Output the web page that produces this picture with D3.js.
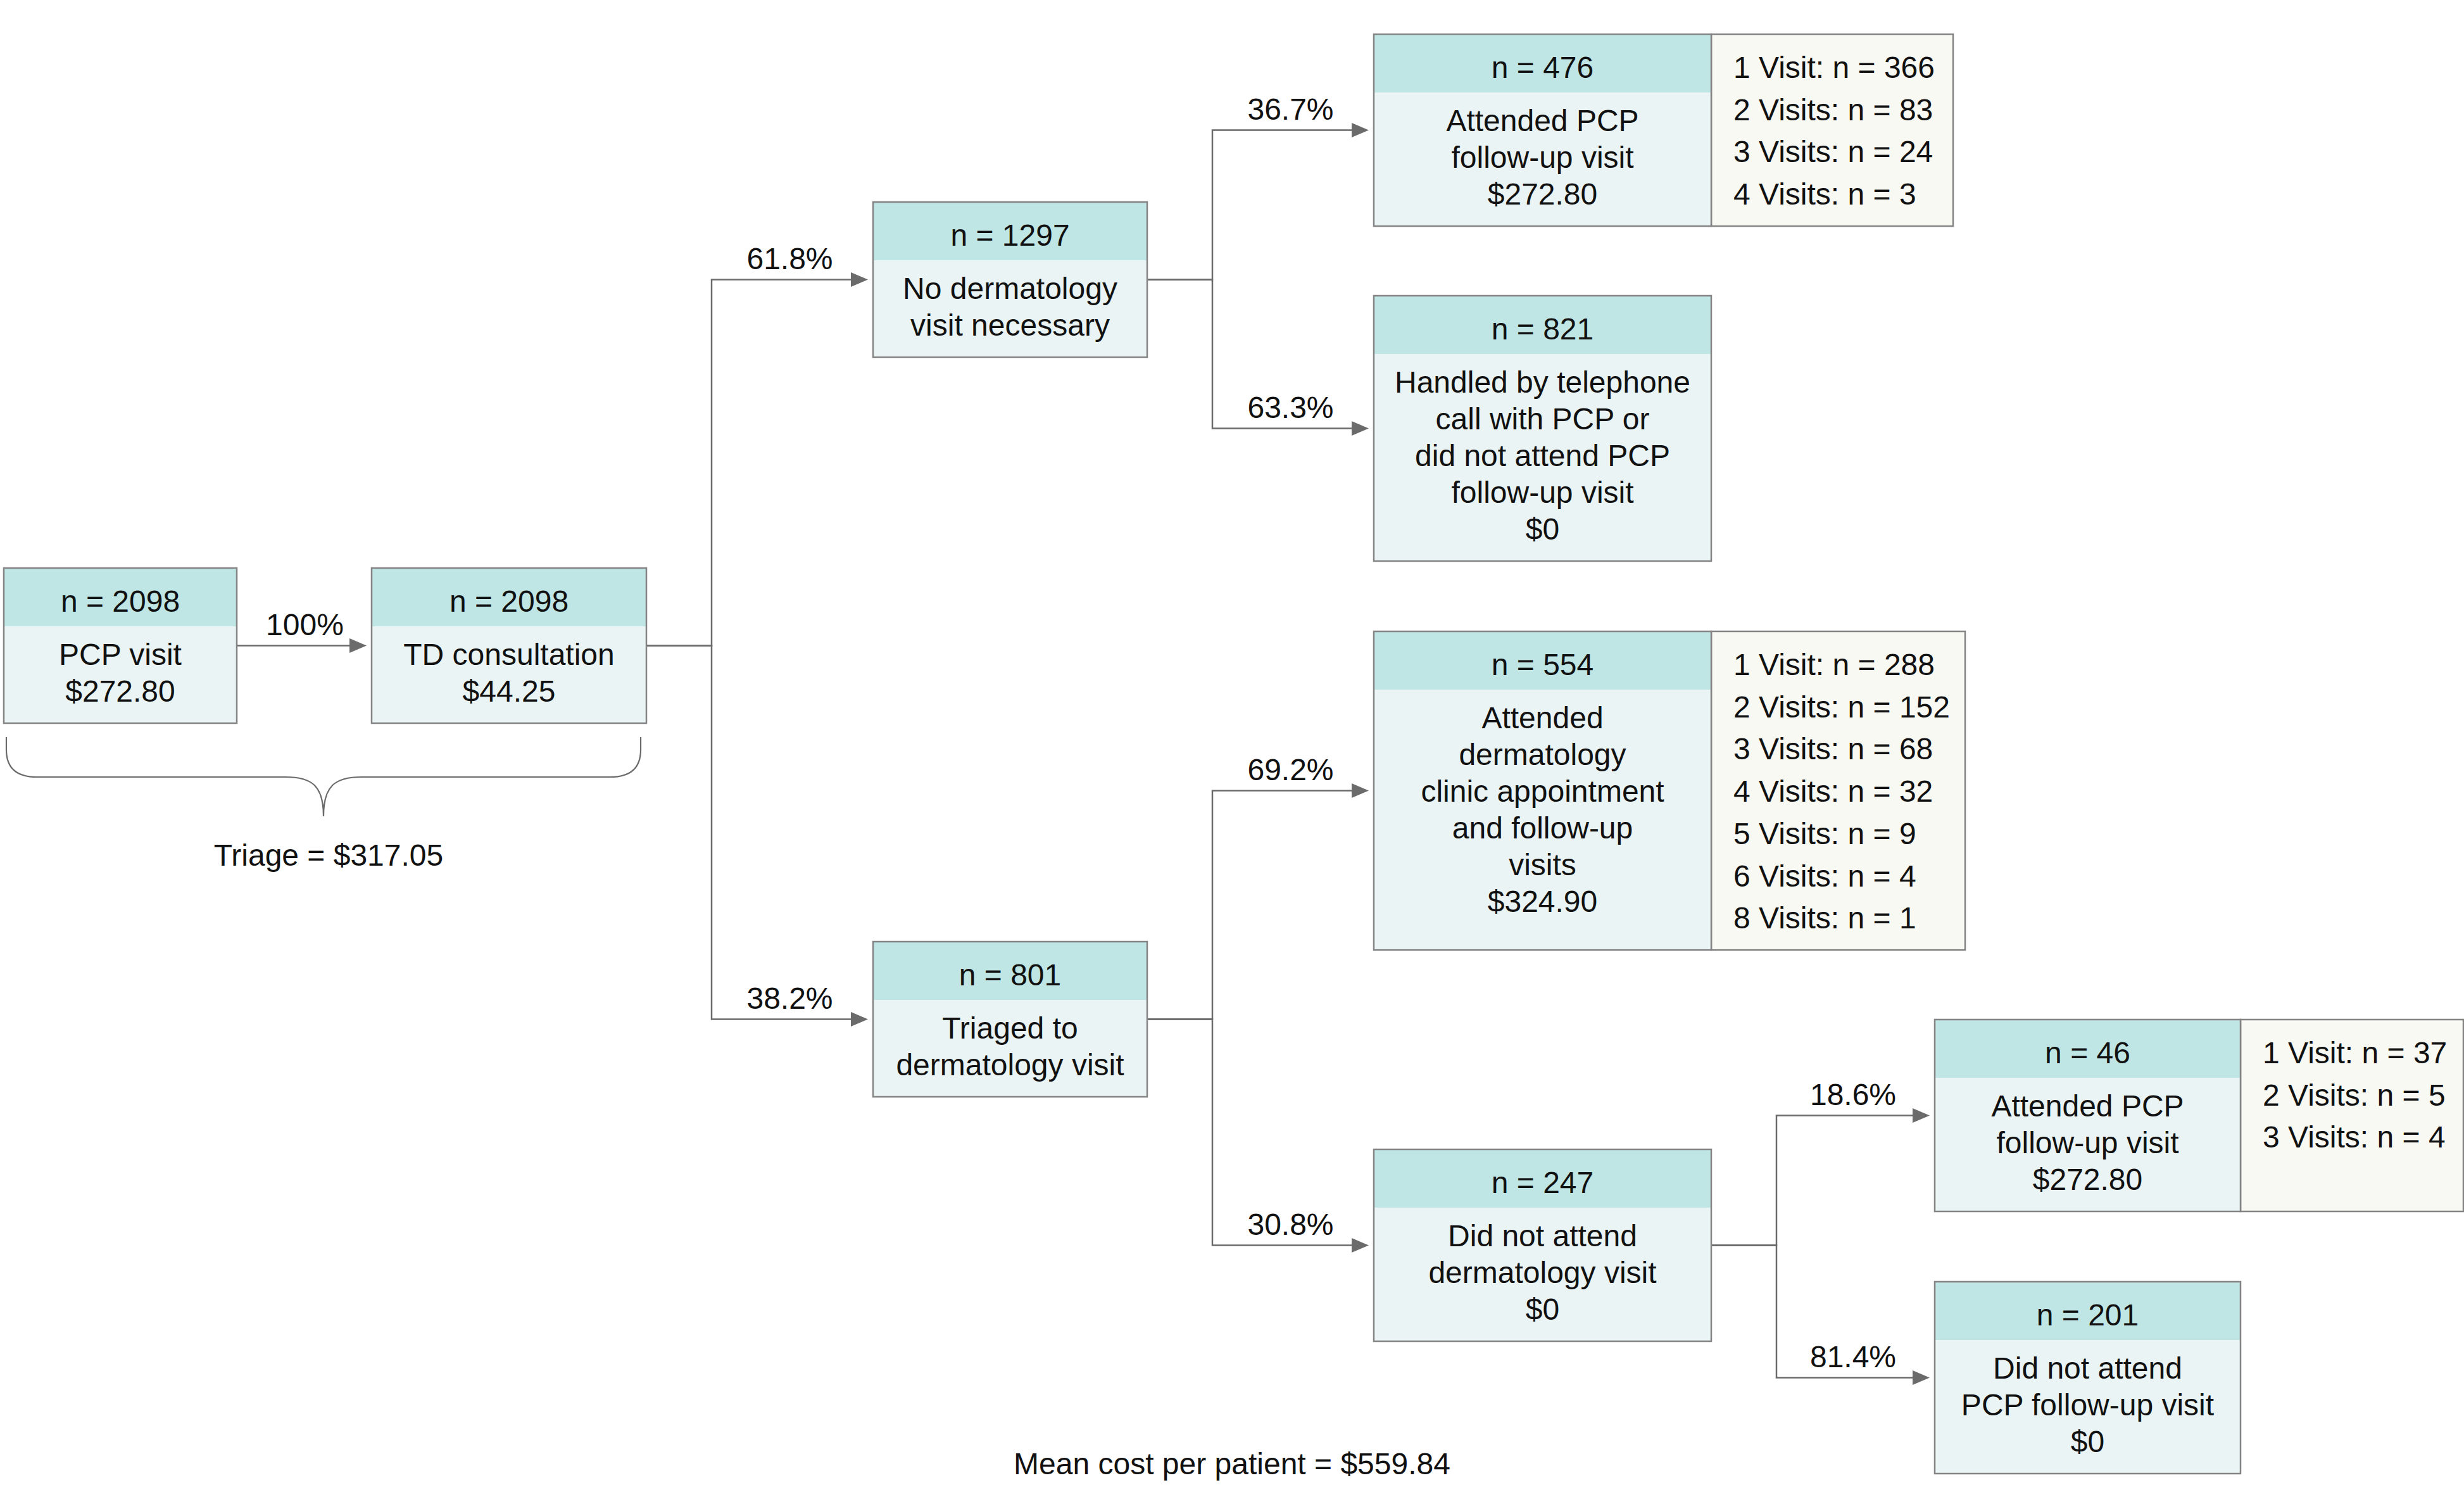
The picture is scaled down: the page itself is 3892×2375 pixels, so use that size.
<!DOCTYPE html>
<html>
<head>
<meta charset="utf-8">
<script src="https://cdn.jsdelivr.net/npm/d3@7"></script>
<style>
  html, body { margin: 0; padding: 0; background: #fff; }
  svg { display: block; }
  text { font-family: "Liberation Sans", Arial, sans-serif; fill: #111; }
</style>
</head>
<body>
<script>
// ---------- DATA ----------
const nodeIds = ["pcp", "td", "noDerm", "triaged", "pcpAttend", "phone", "dermAttend", "dermNoShow", "pcpAttend2", "pcpNoShow"];
const nodeN = [2098, 2098, 1297, 801, 476, 821, 554, 247, 46, 201];
const nodeLabels = [
  ["PCP visit"],
  ["TD consultation"],
  ["No dermatology", "visit necessary"],
  ["Triaged to", "dermatology visit"],
  ["Attended PCP", "follow-up visit"],
  ["Handled by telephone", "call with PCP or", "did not attend PCP", "follow-up visit"],
  ["Attended", "dermatology", "clinic appointment", "and follow-up", "visits"],
  ["Did not attend", "dermatology visit"],
  ["Attended PCP", "follow-up visit"],
  ["Did not attend", "PCP follow-up visit"]
];
const nodeCosts = ["$272.80", "$44.25", null, null, "$272.80", "$0", "$324.90", "$0", "$272.80", "$0"];

const edgeSources = ["pcp", "td", "td", "noDerm", "noDerm", "triaged", "triaged", "dermNoShow", "dermNoShow"];
const edgeTargets = ["td", "noDerm", "triaged", "pcpAttend", "phone", "dermAttend", "dermNoShow", "pcpAttend2", "pcpNoShow"];
const edgePercents = ["100%", "61.8%", "38.2%", "36.7%", "63.3%", "69.2%", "30.8%", "18.6%", "81.4%"];

const visitNodes = ["pcpAttend", "dermAttend", "pcpAttend2"];
const visitCounts = [
  [[1, 366], [2, 83], [3, 24], [4, 3]],
  [[1, 288], [2, 152], [3, 68], [4, 32], [5, 9], [6, 4], [8, 1]],
  [[1, 37], [2, 5], [3, 4]]
];

const triageCost = "$317.05";
const meanCost = "$559.84";

// ---------- LAYOUT (positions / sizes, separate from data) ----------
const W = 3892, H = 2375;
const colLeft = [6, 587, 1379, 2170, 3056];
const colWidth = [368, 434, 433, 533, 483];
const nodeCol = [0, 1, 2, 2, 3, 3, 3, 3, 4, 4];
const nodeTop = [897, 897, 319, 1487, 54, 467, 997, 1815, 1610, 2024];
const visitBoxWidth = [382, 401, 352];

const headerH = 92, nBase = 69, bodyBase = 153, lineH = 58, visitLineH = 66.7, padBottom = 34;
const elbowGap = 103, arrowGap = 8, arrowLen = 27, arrowHalf = 11.5;
const fs = 48;

const colors = {
  header: "#bfe6e4", body: "#eaf4f4", extra: "#f8f9f3",
  border: "#848484", line: "#6b6b6b", text: "#111"
};

const xScale = d3.scaleOrdinal().domain(d3.range(colLeft.length)).range(colLeft);
const wScale = d3.scaleOrdinal().domain(d3.range(colWidth.length)).range(colWidth);
const yScale = d3.scaleLinear().domain([0, H]).range([0, H]);

// build nodes
const nodes = nodeIds.map((id, i) => {
  const body = nodeLabels[i].concat(nodeCosts[i] ? [nodeCosts[i]] : []);
  const vi = visitNodes.indexOf(id);
  const visits = vi >= 0 ? visitCounts[vi] : null;
  const top = yScale(nodeTop[i]);
  const lastBody = bodyBase + lineH * (body.length - 1);
  const lastVisit = visits ? nBase + visitLineH * (visits.length - 1) : 0;
  const h = Math.max(lastBody, lastVisit) + padBottom;
  const x = xScale(nodeCol[i]), w = wScale(nodeCol[i]);
  return { id, n: nodeN[i], body, visits, x, y: top, w, h,
           extraW: vi >= 0 ? visitBoxWidth[vi] : 0, cy: top + h / 2 };
});
const byId = Object.fromEntries(nodes.map(d => [d.id, d]));

const svg = d3.select("body").append("svg").attr("width", W).attr("height", H);

// ---------- EDGES ----------
const gE = svg.append("g");
const srcCount = d3.rollup(edgeSources, v => v.length, d => d);
edgeSources.forEach((s, i) => {
  const a = byId[s], b = byId[edgeTargets[i]];
  const sx = a.x + a.w, sy = a.cy;
  const tipX = b.x - arrowGap, ty = b.cy;
  const multi = srcCount.get(s) > 1;
  const ex = multi ? sx + elbowGap : sx;
  const p = d3.path();
  p.moveTo(sx, sy);
  if (multi) { p.lineTo(ex, sy); p.lineTo(ex, ty); }
  p.lineTo(tipX - arrowLen + 1, ty);
  gE.append("path").attr("d", p.toString()).attr("fill", "none")
    .attr("stroke", colors.line).attr("stroke-width", 2.5);
  gE.append("path")
    .attr("d", `M${tipX},${ty}L${tipX - arrowLen},${ty - arrowHalf}L${tipX - arrowLen},${ty + arrowHalf}Z`)
    .attr("fill", colors.line);
  gE.append("text").attr("x", (ex + tipX) / 2 + (multi ? 0 : 5)).attr("y", ty - 17)
    .attr("text-anchor", "middle").attr("font-size", fs).text(edgePercents[i]);
});

// ---------- NODES ----------
const gN = svg.selectAll("g.node").data(nodes).join("g").attr("class", "node");

gN.filter(d => d.visits).append("rect")
  .attr("x", d => d.x + d.w).attr("y", d => d.y)
  .attr("width", d => d.extraW).attr("height", d => d.h)
  .attr("fill", colors.extra).attr("stroke", colors.border).attr("stroke-width", 2.5);

gN.append("rect").attr("x", d => d.x).attr("y", d => d.y)
  .attr("width", d => d.w).attr("height", d => d.h).attr("fill", colors.body);
gN.append("rect").attr("x", d => d.x).attr("y", d => d.y)
  .attr("width", d => d.w).attr("height", headerH).attr("fill", colors.header);
gN.append("rect").attr("x", d => d.x).attr("y", d => d.y)
  .attr("width", d => d.w).attr("height", d => d.h)
  .attr("fill", "none").attr("stroke", colors.border).attr("stroke-width", 2.5);

gN.append("text").attr("x", d => d.x + d.w / 2).attr("y", d => d.y + nBase)
  .attr("text-anchor", "middle").attr("font-size", fs).text(d => `n = ${d.n}`);

gN.each(function (d) {
  const g = d3.select(this);
  d.body.forEach((t, j) => {
    g.append("text").attr("x", d.x + d.w / 2).attr("y", d.y + bodyBase + j * lineH)
      .attr("text-anchor", "middle").attr("font-size", fs).text(t);
  });
  if (d.visits) {
    d.visits.forEach((v, j) => {
      g.append("text").attr("x", d.x + d.w + 35).attr("y", d.y + nBase + j * visitLineH)
        .attr("font-size", fs).text(`${v[0]} ${v[0] === 1 ? "Visit" : "Visits"}: n = ${v[1]}`);
    });
  }
});

// ---------- BRACE ----------
const b0 = byId.pcp, b1 = byId.td;
const bl = b0.x + 4, br = b1.x + b1.w - 9;
const bTop = b0.y + b0.h + 22, bMid = bTop + 63, bTip = bMid + 62;
const bc = (bl + br) / 2;
const brace = `M${bl},${bTop} L${bl},${bTop + 20} Q${bl},${bMid} ${bl + 48},${bMid} L${bc - 60},${bMid}
  C${bc - 18},${bMid} ${bc},${bMid + 14} ${bc},${bTip}
  C${bc},${bMid + 14} ${bc + 18},${bMid} ${bc + 60},${bMid}
  L${br - 48},${bMid} Q${br},${bMid} ${br},${bTop + 20} L${br},${bTop}`;
svg.append("path").attr("d", brace).attr("fill", "none")
  .attr("stroke", colors.line).attr("stroke-width", 2.2);
svg.append("text").attr("x", bc + 8).attr("y", bTip + 78).attr("text-anchor", "middle")
  .attr("font-size", fs).text(`Triage = ${triageCost}`);

// ---------- FOOTER ----------
svg.append("text").attr("x", 1946).attr("y", 2328).attr("text-anchor", "middle")
  .attr("font-size", fs).text(`Mean cost per patient = ${meanCost}`);
</script>
</body>
</html>
